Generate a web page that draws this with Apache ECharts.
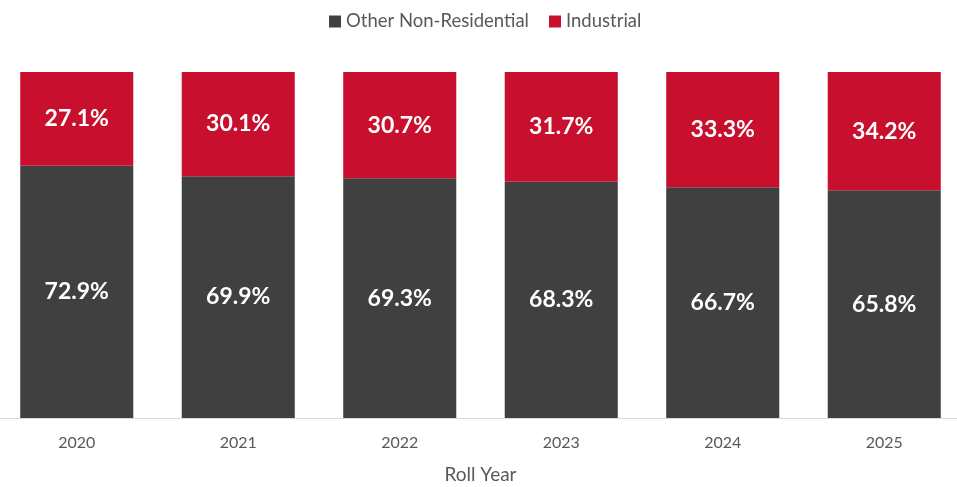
<!DOCTYPE html>
<html><head><meta charset="utf-8">
<script src="https://cdn.jsdelivr.net/npm/echarts@6/dist/echarts.min.js"></script>
<style>html,body{margin:0;padding:0;background:#fff;overflow:hidden}#c{width:969px;height:487px;margin-left:-4px}</style>
</head><body><div id="c"></div>
<script>
const categories = ['2020','2021','2022','2023','2024','2025'];
const otherNonResidential = [72.9, 69.9, 69.3, 68.3, 66.7, 65.8];
const industrial = [27.1, 30.1, 30.7, 31.7, 33.3, 34.2];

const chart = echarts.init(document.getElementById('c'), null, {renderer:'canvas'});
const lbl = {show:true, position:'inside', color:'#ffffff', fontFamily:'Lato', fontWeight:'bold', fontSize:23, formatter: p => p.value.toFixed(1) + '%'};
chart.setOption({
  animation:false,
  textStyle:{fontFamily:'Lato'},
  legend:{top:7, left:328, itemWidth:12, itemHeight:12, itemGap:20, icon:'rect',
    textStyle:{color:'#595959', fontSize:18.5, fontFamily:'Lato'},
    data:['Other Non-Residential','Industrial']},
  grid:{left:0, right:0, top:72, bottom:69, containLabel:false, outerBoundsMode:'none'},
  xAxis:{type:'category', data:categories,
    axisLine:{lineStyle:{color:'#d9d9d9', width:1}}, axisTick:{show:false},
    axisLabel:{color:'#595959', fontSize:16, margin:17, fontFamily:'Lato'},
    name:'Roll Year', nameLocation:'middle', nameGap:47,
    nameTextStyle:{color:'#595959', fontSize:19, fontFamily:'Lato'}},
  yAxis:{type:'value', min:0, max:100, show:false, splitLine:{show:false}},
  series:[
    {name:'Other Non-Residential', type:'bar', stack:'a', data:otherNonResidential, barCategoryGap:'30%', itemStyle:{color:'#404040'}, label:lbl},
    {name:'Industrial', type:'bar', stack:'a', data:industrial, barCategoryGap:'30%', itemStyle:{color:'#C8102E'}, label:lbl}
  ]
});
</script></body></html>
